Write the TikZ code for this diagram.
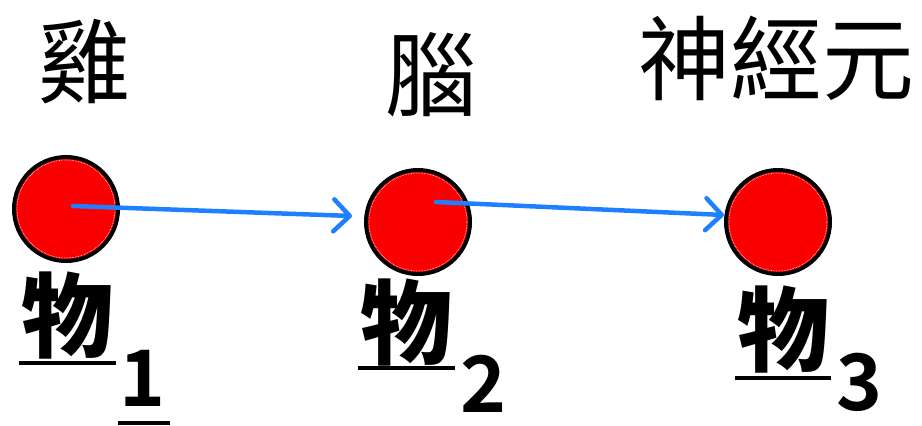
\documentclass[tikz,border=0pt]{standalone}
\usepackage{fontspec}
\newfontfamily\cjk{Noto Sans CJK TC}
\newfontfamily\cjkblack{Noto Sans CJK TC Black}
\newfontfamily\cjkbold{Noto Sans CJK TC Bold}
\usetikzlibrary{arrows.meta}
\definecolor{arrblue}{RGB}{30,128,255}
\definecolor{ballred}{RGB}{250,0,0}
\begin{document}
\begin{tikzpicture}[x=1pt,y=-1pt,
  title/.style={inner sep=0pt,font=\cjk\fontsize{92}{92}\selectfont},
  ball/.style={circle,draw=black,line width=4pt,fill=ballred,minimum size=104pt,inner sep=0pt},
  arr/.style={draw=arrblue,line width=4.5pt,line cap=round,-{Straight Barb[length=16pt,width=32pt,round]}},
  wu/.style={inner sep=0pt,font=\cjkblack\fontsize{92}{92}\selectfont},
  sub/.style={inner sep=0pt,anchor=base,font=\cjkbold\fontsize{78}{78}\selectfont},
  uline/.style={draw=black,line width=4pt}]
\useasboundingbox (0,0) rectangle (922,426);
\node[title] (t1) at (84,62) {雞};
\node[title] (t2) at (431,75) {腦};
\node[title] (t3) at (776,58) {神經元};
\node[ball] (c1) at (66,209) {};
\node[ball] (c2) at (418,222) {};
\node[ball] (c3) at (778,222) {};
\foreach \c in {c1,c2,c3}{
  \draw[white,line width=0.6pt,densely dotted] (\c.center) circle (49pt);
}
\draw[arr] ([shift={(7,-3)}]c1.center) -- ([shift={(-12,-6)}]c2.west);
\draw[arr] ([shift={(18,-20)}]c2.center) -- ([shift={(0,-7)}]c3.west);
\node[wu] (w1) at (67,316) {物};
\node[wu] (w2) at (406,323) {物};
\node[wu] (w3) at (783,330) {物};
\draw[uline] (19,363) -- (116,363);
\draw[uline] (358,368) -- (455,368);
\draw[uline] (735,378) -- (831,378);
\node[sub] (s1) at (143,406) {1};
\node[sub] (s2) at (484,412) {2};
\node[sub] (s3) at (860,410) {3};
\draw[uline] (118,423) -- (170,423);
\end{tikzpicture}
\end{document}
